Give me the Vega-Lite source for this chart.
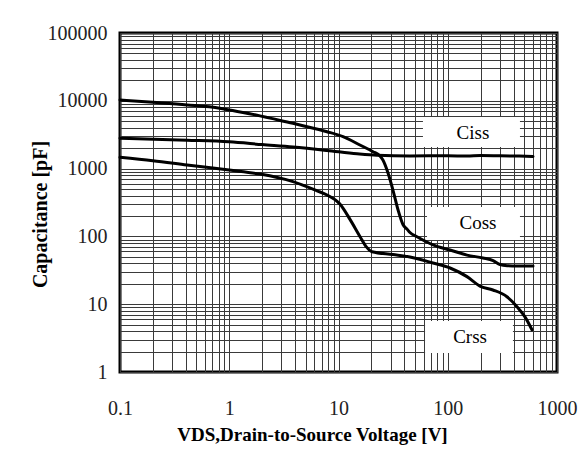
{
  "$schema": "https://vega.github.io/schema/vega-lite/v6.json",
  "width": 437,
  "height": 339,
  "autosize": {"type": "none"},
  "padding": {"left": 120, "top": 33, "right": 30, "bottom": 86},
  "background": "white",
  "config": {"view": {"stroke": "black", "strokeWidth": 3}, "font": "Liberation Serif"},
  "datasets": {
    "curves": [
      {"series": "Coss", "V": 0.1, "C": 10280},
      {"series": "Coss", "V": 0.2, "C": 9500},
      {"series": "Coss", "V": 0.41, "C": 8700},
      {"series": "Coss", "V": 0.82, "C": 7750},
      {"series": "Coss", "V": 1.0, "C": 7310},
      {"series": "Coss", "V": 1.91, "C": 6000},
      {"series": "Coss", "V": 2.36, "C": 5550},
      {"series": "Coss", "V": 3.83, "C": 4660},
      {"series": "Coss", "V": 4.44, "C": 4400},
      {"series": "Coss", "V": 7.85, "C": 3500},
      {"series": "Coss", "V": 11.0, "C": 2955},
      {"series": "Coss", "V": 15.7, "C": 2230},
      {"series": "Coss", "V": 20.7, "C": 1775},
      {"series": "Coss", "V": 24.0, "C": 1535},
      {"series": "Coss", "V": 25.5, "C": 1340},
      {"series": "Coss", "V": 28.4, "C": 861},
      {"series": "Coss", "V": 31.5, "C": 483},
      {"series": "Coss", "V": 35.1, "C": 245},
      {"series": "Coss", "V": 38.9, "C": 150},
      {"series": "Coss", "V": 42.4, "C": 128},
      {"series": "Coss", "V": 45.1, "C": 114},
      {"series": "Coss", "V": 52.3, "C": 99},
      {"series": "Coss", "V": 73.3, "C": 75},
      {"series": "Coss", "V": 105, "C": 63},
      {"series": "Coss", "V": 150, "C": 53},
      {"series": "Coss", "V": 210, "C": 48},
      {"series": "Coss", "V": 260, "C": 44},
      {"series": "Coss", "V": 301, "C": 38.5},
      {"series": "Coss", "V": 350, "C": 37},
      {"series": "Coss", "V": 430, "C": 36.6},
      {"series": "Coss", "V": 603, "C": 36.6},
      {"series": "Ciss", "V": 0.1, "C": 2800},
      {"series": "Ciss", "V": 0.41, "C": 2620},
      {"series": "Ciss", "V": 1.0, "C": 2480},
      {"series": "Ciss", "V": 2.0, "C": 2260},
      {"series": "Ciss", "V": 3.83, "C": 2080},
      {"series": "Ciss", "V": 7.85, "C": 1850},
      {"series": "Ciss", "V": 14.8, "C": 1650},
      {"series": "Ciss", "V": 22.5, "C": 1570},
      {"series": "Ciss", "V": 45, "C": 1540},
      {"series": "Ciss", "V": 100, "C": 1550},
      {"series": "Ciss", "V": 150, "C": 1530},
      {"series": "Ciss", "V": 200, "C": 1560},
      {"series": "Ciss", "V": 300, "C": 1545},
      {"series": "Ciss", "V": 450, "C": 1530},
      {"series": "Ciss", "V": 603, "C": 1510},
      {"series": "Crss", "V": 0.1, "C": 1468},
      {"series": "Crss", "V": 0.2, "C": 1308},
      {"series": "Crss", "V": 0.41, "C": 1130},
      {"series": "Crss", "V": 1.0, "C": 950},
      {"series": "Crss", "V": 1.91, "C": 830},
      {"series": "Crss", "V": 3.83, "C": 641},
      {"series": "Crss", "V": 6.36, "C": 470},
      {"series": "Crss", "V": 7.85, "C": 408},
      {"series": "Crss", "V": 10.3, "C": 300},
      {"series": "Crss", "V": 12.7, "C": 180},
      {"series": "Crss", "V": 15.7, "C": 100},
      {"series": "Crss", "V": 18, "C": 70},
      {"series": "Crss", "V": 20.3, "C": 59.4},
      {"series": "Crss", "V": 31.5, "C": 54},
      {"series": "Crss", "V": 45, "C": 49.7},
      {"series": "Crss", "V": 73.3, "C": 40.5},
      {"series": "Crss", "V": 105, "C": 34.2},
      {"series": "Crss", "V": 150, "C": 25.5},
      {"series": "Crss", "V": 197, "C": 18.5},
      {"series": "Crss", "V": 259, "C": 16.2},
      {"series": "Crss", "V": 348, "C": 12.9},
      {"series": "Crss", "V": 430, "C": 9.2},
      {"series": "Crss", "V": 509, "C": 6.5},
      {"series": "Crss", "V": 590, "C": 4.2}
    ],
    "labels": [
      {"series": "Ciss", "x1": 59.3, "x2": 458, "y1": 5770, "y2": 2085, "tx": 170, "ty": 3350},
      {"series": "Coss", "x1": 64.6, "x2": 458, "y1": 272, "y2": 88.5, "tx": 189, "ty": 158},
      {"series": "Crss", "x1": 62, "x2": 395, "y1": 5.65, "y2": 1.9, "tx": 160, "ty": 3.3}
    ]
  },
  "layer": [
    {
      "data": {"name": "labels"},
      "mark": {"type": "rect", "fill": "white"},
      "encoding": {
        "x": {
          "field": "x1", "type": "quantitative",
          "scale": {"type": "log", "domain": [0.1, 1000]},
          "axis": {
            "values": [0.1,0.2,0.3,0.4,0.5,0.6,0.7,0.8,0.9,1,2,3,4,5,6,7,8,9,10,20,30,40,50,60,70,80,90,100,200,300,400,500,600,700,800,900,1000],
            "format": "~g",
            "labelExpr": "indexof([0.1,1,10,100,1000], datum.value) >= 0 ? datum.label : ''",
            "grid": true, "gridColor": "#3a3a3a", "gridWidth": 1,
            "ticks": false, "domain": false,
            "labelFont": "Liberation Serif", "labelFontSize": 20, "labelColor": "#222222",
            "labelPadding": 26, "labelOverlap": false, "labelFlush": false,
            "title": "VDS,Drain-to-Source Voltage [V]",
            "titleFont": "Liberation Serif", "titleFontSize": 19, "titleFontWeight": "bold",
            "titleColor": "black", "titleX": 192, "titleY": 68, "titleBaseline": "alphabetic"
          }
        },
        "x2": {"field": "x2"},
        "y": {
          "field": "y1", "type": "quantitative",
          "scale": {"type": "log", "domain": [1, 100000]},
          "axis": {
            "values": [1,2,3,4,5,6,7,8,9,10,20,30,40,50,60,70,80,90,100,200,300,400,500,600,700,800,900,1000,2000,3000,4000,5000,6000,7000,8000,9000,10000,20000,30000,40000,50000,60000,70000,80000,90000,100000],
            "format": "d",
            "labelExpr": "indexof([1,10,100,1000,10000,100000], datum.value) >= 0 ? datum.label : ''",
            "grid": true, "gridColor": "#3a3a3a", "gridWidth": 1,
            "ticks": false, "domain": false,
            "labelFont": "Liberation Serif", "labelFontSize": 20, "labelColor": "#222222",
            "labelPadding": 13, "labelOverlap": false, "labelFlush": false,
            "title": "Capacitance [pF]",
            "titleFont": "Liberation Serif", "titleFontSize": 20, "titleFontWeight": "bold",
            "titleColor": "black", "titleX": -80, "titleY": 181, "titleBaseline": "middle"
          }
        },
        "y2": {"field": "y2"}
      }
    },
    {
      "data": {"name": "curves"},
      "mark": {"type": "line", "stroke": "black", "strokeWidth": 3, "strokeJoin": "round", "strokeCap": "round", "interpolate": "monotone"},
      "encoding": {
        "x": {"field": "V", "type": "quantitative"},
        "y": {"field": "C", "type": "quantitative"},
        "detail": {"field": "series"}
      }
    },
    {
      "data": {"name": "labels"},
      "mark": {"type": "text", "font": "Liberation Serif", "fontSize": 19, "align": "center", "baseline": "middle", "color": "black"},
      "encoding": {
        "x": {"field": "tx", "type": "quantitative"},
        "y": {"field": "ty", "type": "quantitative"},
        "text": {"field": "series"}
      }
    }
  ]
}
